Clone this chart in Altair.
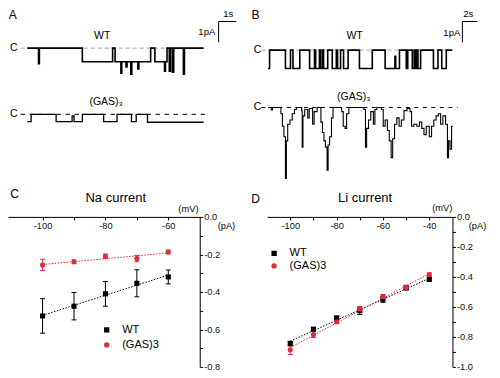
import altair as alt
import pandas as pd

FONT = "Liberation Sans"
RED = "#dd2a3d"
GRAY = "#a8a8a8"
S = 0.962  # overall figure scale

# ---------------- single-channel traces (time in s, current in pA) ----------------
A_WT_T = [0.00, 0.64, 0.69, 3.13, 4.85, 4.99, 5.32, 5.37, 5.61, 5.67, 5.88, 5.94, 6.28,
          6.34, 7.01, 7.25, 7.80, 7.85, 7.94, 8.07, 8.14, 8.25, 8.32, 8.87, 8.93, 10.02]
A_WT_I = [0, -0.75, 0, -0.65, 0, -0.65, -1.2, -0.65, -0.9, -0.65, -1.25, -0.65, -1.0,
          -0.65, 0, -0.65, -1.1, -0.65, 0, -1.1, 0, -1.15, 0, -1.25, 0, 0]

A_GAS_T = [0.00, 0.22, 1.64, 2.55, 2.66, 3.13, 4.34, 5.10, 5.92, 6.19, 6.83, 10.02]
A_GAS_I = [-0.35, 0, -0.35, -0.08, -0.35, 0, -0.35, 0, -0.35, 0, -0.38, -0.38]

B_WT_T = [0.0, 0.2, 2.3, 2.97, 3.3, 4.2, 5.5, 6.15, 6.3, 6.8, 6.95, 7.2, 7.35, 7.9, 8.5,
          9.04, 9.2, 9.6, 10.0, 10.6, 12.1, 13.8, 15.5, 16.8, 16.9, 17.4, 18.3, 18.5,
          19.1, 19.35, 19.5, 19.7, 19.85, 20.2, 21.9, 22.5, 23.0, 23.6, 24.4]
B_WT_I = [-0.88, 0, -0.88, 0, -0.88, 0, -0.88, 0, -0.88, 0, -0.88, 0, -0.88, 0, -0.88,
          0, -0.88, 0, -0.88, 0, -0.88, 0, -0.88, -0.3, -0.88, 0, -0.88, 0,
          -0.88, 0, -0.88, 0, -0.88, 0, -0.88, 0, -0.88, 0, 0]

B_GAS_T = [0.0, 0.42, 0.6, 1.7, 1.9, 2.1, 2.3, 2.42, 2.6, 2.9,
           3.2, 3.5, 3.75, 4.45, 4.52, 4.62, 4.85, 5.25, 5.45, 5.9,
           6.1, 6.5, 7.0, 7.2, 7.4, 7.6, 7.82, 7.95, 8.15, 8.4,
           8.6, 9.75, 9.95, 10.2, 10.4, 10.7, 12.7, 12.9, 13.05, 13.3,
           13.6, 13.95, 14.15, 14.4, 15.0, 15.25, 15.5, 15.8, 16.05, 16.3,
           16.5, 16.75, 17.05, 17.35, 17.65, 18.0, 18.4, 18.8, 19.0, 19.3,
           19.7, 20.05, 20.35, 20.65, 20.95, 21.35, 21.65, 21.95, 22.25, 22.55,
           22.85, 23.15, 23.5, 23.75, 23.9, 24.1, 24.3, 24.5]
B_GAS_I = [0, -0.12, 0, -0.3, -0.9, -1.4, -3.4, -1.6, -0.8, -0.6,
           -0.3, -0.1, 0, -0.15, -1.9, -0.4, -0.1, -0.5, -0.05, -0.8,
           -0.2, 0, -0.7, -1.2, -1.6, -1.9, -3.0, -1.8, -1.4, -0.5,
           0, -0.2, -0.9, -1.0, -0.3, 0, -0.1, -1.9, -1.0, -0.6,
           -0.2, -0.8, -0.1, 0, -0.1, -0.9, -0.6, -1.1, -1.6, -2.4,
           -1.5, -0.8, -0.5, -0.9, -0.6, -0.15, -0.05, -0.2, -0.9, -0.8,
           -0.9, -0.7, -1.0, -1.3, -0.9, -1.4, -0.9, -0.6, -0.4, -0.3,
           -0.8, -0.4, -0.8, -2.4, -1.6, -2.0, -0.9, -0.9]

# ---------------- I-V data (mV, pA, SEM) ----------------
C_MV = [-100, -90, -80, -70, -60]
C_WT_I = [-0.528, -0.476, -0.41, -0.354, -0.32]
C_WT_SE = [0.092, 0.073, 0.066, 0.072, 0.037]
C_GAS_I = [-0.256, -0.239, -0.21, -0.222, -0.187]
C_GAS_SE = [0.03, 0.01, 0.012, 0.017, 0.01]

D_MV = [-100, -90, -80, -70, -60, -50, -40]
D_WT_I = [-0.844, -0.748, -0.673, -0.625, -0.549, -0.474, -0.417]
D_WT_SE = [0.015, 0.01, 0.01, 0.025, 0.02, 0.01, 0.01]
D_GAS_I = [-0.885, -0.784, -0.699, -0.613, -0.532, -0.47, -0.385]
D_GAS_SE = [0.032, 0.02, 0.012, 0.015, 0.015, 0.015, 0.012]

SERIES = ["WT", "(GAS)3"]


def trace_panel(traces, dashes, bar, texts, geom):
    x_px0, px_s, y_px0, px_pA, left, right = geom
    top, bottom = 0, 186
    xs = alt.Scale(domain=[(left - x_px0) / px_s, (right - x_px0) / px_s], nice=False, zero=False)
    ys = alt.Scale(domain=[(y_px0 - bottom) / px_pA, (y_px0 - top) / px_pA], nice=False, zero=False)
    layers = []
    for t1, t2, y, col, dash in dashes:
        d = pd.DataFrame({"t1": [t1], "t2": [t2], "y": [y]})
        layers.append(alt.Chart(d).mark_rule(color=col, strokeDash=dash, strokeWidth=1).encode(
            x=alt.X("t1:Q", scale=xs, axis=None), x2="t2:Q",
            y=alt.Y("y:Q", scale=ys, axis=None)))
    for T, I, off, sw in traces:
        d = pd.DataFrame({"t": T, "i": [v + off for v in I]})
        layers.append(alt.Chart(d).mark_line(interpolate="step-after", color="black",
                                             strokeWidth=sw).encode(
            x=alt.X("t:Q", scale=xs, axis=None), y=alt.Y("i:Q", scale=ys, axis=None)))
    tb, yb, dt, dI = bar
    d = pd.DataFrame({"t1": [tb, tb], "t2": [tb + dt, tb], "y1": [yb, yb], "y2": [yb, yb - dI]})
    layers.append(alt.Chart(d).mark_rule(color="black", strokeWidth=1).encode(
        x=alt.X("t1:Q", scale=xs, axis=None), x2="t2:Q",
        y=alt.Y("y1:Q", scale=ys, axis=None), y2="y2:Q"))
    d = pd.DataFrame(texts, columns=["txt", "t", "y", "fs"])
    layers.append(alt.Chart(d).mark_text(font=FONT, baseline="middle", align="center",
                                         color="black").encode(
        x=alt.X("t:Q", scale=xs, axis=None), y=alt.Y("y:Q", scale=ys, axis=None),
        text="txt:N", size=alt.Size("fs:Q", scale=None)))
    return alt.layer(*layers).properties(width=(right - left) * S, height=(bottom - top) * S)


XLAB = "datum.value % 20 == 0 ? replace(format(datum.value, 'd'), '\u2212', '-') : ''"
YLAB = "abs(round(datum.value * 10)) % 2 == 0 ? replace(format(datum.value, '.1f'), '\u2212', '-') : ''"


def iv_panel(mv, wt, wt_se, gas, gas_se, xdom, left_px, right_px, ydom, ext, cap,
             xvals, yvals, leg, texts):
    W = (right_px - left_px) * S
    H = 156 * S
    xs = alt.Scale(domain=xdom, nice=False, zero=False)
    ys = alt.Scale(domain=ydom, nice=False, zero=False)
    rows = []
    for name, vals, ses in ((SERIES[0], wt, wt_se), (SERIES[1], gas, gas_se)):
        for v, i, e in zip(mv, vals, ses):
            rows.append({"series": name, "v": v, "i": i, "lo": i - e, "hi": i + e})
    df = pd.DataFrame(rows)

    common = dict(grid=False, title=None, domainColor="black", tickColor="black",
                  labelColor="#111", labelFontSize=9.3, labelFont=FONT, tickSize=3,
                  labelFlush=False, labelOverlap=False, domainWidth=1, tickWidth=1)
    xaxis = alt.Axis(orient="bottom", offset=-H, values=xvals, labelExpr=XLAB,
                     labelPadding=2, **common)
    yaxis = alt.Axis(orient="right", values=yvals, labelExpr=YLAB, labelPadding=1, **common)

    def X(f):
        return alt.X(f, type="quantitative", scale=xs, axis=xaxis)

    def Y(f):
        return alt.Y(f, type="quantitative", scale=ys, axis=yaxis)

    layers = []
    for name, col in ((SERIES[0], "black"), (SERIES[1], RED)):
        base = alt.Chart(df).transform_filter(alt.datum.series == name)
        layers.append(base.transform_regression("v", "i", extent=ext).mark_line(
            color=col, strokeDash=[1.5, 1.5], strokeWidth=1).encode(x=X("v"), y=Y("i")))
        layers.append(base.mark_rule(color=col, strokeWidth=1).encode(
            x=X("v"), y=Y("lo"), y2="hi"))
        layers.append(base.transform_calculate(a=alt.datum.v - cap, b=alt.datum.v + cap)
                      .transform_fold(["lo", "hi"], as_=["k", "yy"])
                      .mark_rule(color=col, strokeWidth=1).encode(x=X("a"), x2="b", y=Y("yy")))
    lx, ly, rp = leg
    lg = alt.Legend(orient="none", legendX=lx, legendY=ly, title=None, padding=0,
                    labelFontSize=11, labelFont=FONT, labelColor="black", symbolSize=28,
                    labelOffset=10, rowPadding=rp, symbolStrokeWidth=0)
    pts = alt.Chart(df).mark_point(filled=True, opacity=1, size=26).encode(
        x=X("v"), y=Y("i"),
        color=alt.Color("series:N", scale=alt.Scale(domain=SERIES, range=["black", RED]), legend=lg),
        shape=alt.Shape("series:N", scale=alt.Scale(domain=SERIES, range=["square", "circle"]), legend=lg),
    )
    layers.append(pts)
    for al in ("center", "left"):
        d = pd.DataFrame([t[:4] for t in texts if t[4] == al], columns=["v", "i", "txt", "fs"])
        layers.append(alt.Chart(d).mark_text(font=FONT, baseline="middle", align=al,
                                             color="black").encode(
            x=X("v"), y=Y("i"), text="txt:N", size=alt.Size("fs:Q", scale=None)))
    return alt.layer(*layers).properties(width=W, height=H)


# ---------- panel A ----------
A_OFF = -3.17
panelA = trace_panel(
    traces=[(A_WT_T, A_WT_I, 0, 1.6), (A_GAS_T, A_GAS_I, A_OFF, 1.3)],
    dashes=[(-0.38, 10.0, 0, GRAY, [4.5, 2.5]), (-0.38, 10.1, A_OFF, "black", [4.5, 4.5])],
    bar=(10.87, 1.276, 1, 1),
    texts=[("A", -0.82, 1.6, 12), ("WT", 4.26, 0.585, 10.5), ("(GAS)\u2083", 4.48, -2.594, 10.5),
           ("C", -0.765, 0, 10.5), ("C", -0.765, A_OFF, 10.5),
           ("1s", 11.42, 1.62, 9.5), ("1pA", 10.2, 0.78, 9.5)],
    geom=(20, 18.3, 40.7, 21.7, 0, 199.3),
)

# ---------- panel B ----------
B_OFF = -2.75
panelB = trace_panel(
    traces=[(B_WT_T, B_WT_I, 0, 1.6), (B_GAS_T, B_GAS_I, B_OFF, 1.1)],
    dashes=[(-0.89, 24.3, 0, GRAY, [4.5, 2.5]), (-0.89, 25.1, B_OFF, "black", [4, 4.5])],
    bar=(25.73, 1.369, 2, 1),
    texts=[("B", -1.66, 1.69, 12), ("WT", 11.46, 0.677, 10.5), ("(GAS)\u2083", 11.34, -2.25, 10.5),
           ("C", -1.4, 0, 10.5), ("C", -1.4, B_OFF, 10.5),
           ("2s", 26.5, 1.737, 9.5), ("1pA", 24.33, 0.816, 9.5)],
    geom=(270, 7.85, 42.7, 21.7, 269, 500),
)

# ---------- panel C ----------
panelC = iv_panel(
    C_MV, C_WT_I, C_WT_SE, C_GAS_I, C_GAS_SE,
    xdom=[-111, -50], left_px=0, right_px=199.3, ydom=[-0.8, 0], ext=[-100, -60], cap=0.8,
    xvals=[-100, -90, -80, -70, -60],
    yvals=[0, -0.1, -0.2, -0.3, -0.4, -0.5, -0.6, -0.7, -0.8],
    leg=(93.2, 107.5, 3),
    texts=[(-108.9, 0.12, "C", 12, "center"), (-76.7, 0.103, "Na current", 13, "center"),
           (-53.6, 0.041, "(mV)", 9.3, "center"), (-44.3, -0.05, "(pA)", 9.3, "left")],
)

# ---------- panel D ----------
panelD = iv_panel(
    D_MV, D_WT_I, D_WT_SE, D_GAS_I, D_GAS_SE,
    xdom=[-110, -30], left_px=269, right_px=461.7, ydom=[-1.0, 0], ext=[-100, -40], cap=1.1,
    xvals=[-100, -90, -80, -70, -60, -50, -40],
    yvals=[0, -0.1, -0.2, -0.3, -0.4, -0.5, -0.6, -0.7, -0.8, -0.9, -1.0],
    leg=(1.5, 31, 0.5),
    texts=[(-115, 0.118, "D", 12, "center"), (-67.7, 0.124, "Li current", 13, "center"),
           (-34.4, 0.058, "(mV)", 9.3, "center"), (-23.0, -0.06, "(pA)", 9.3, "left")],
)

chart = alt.concat(
    panelA, panelB, panelC, panelD,
    columns=2, spacing={"row": 28.9, "column": 67.1}, bounds="flush", align="each",
).resolve_scale(color="independent", shape="independent").resolve_legend(
    color="independent", shape="independent"
).properties(padding=0).configure(font=FONT).configure_view(stroke=None)

chart.save("out.html", embed_options={"renderer": "svg", "actions": False})
